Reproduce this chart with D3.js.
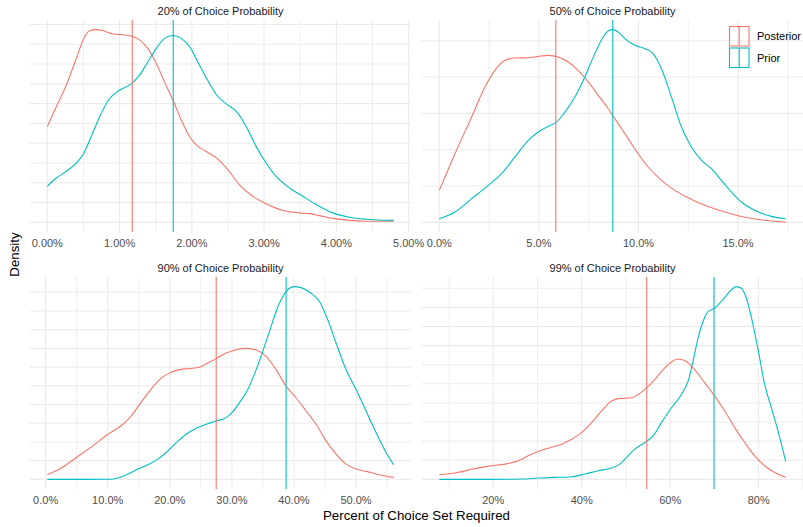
<!DOCTYPE html>
<html>
<head>
<meta charset="utf-8">
<script src="https://cdn.jsdelivr.net/npm/d3@7"></script>
<style>
  body { margin: 0; background: #fff; }
  svg text { font-family: "Liberation Sans", Arial, sans-serif; }
</style>
</head>
<body>
<div id="chart"></div>
<script>
// facet titles
var panelTitles = ["20% of Choice Probability", "50% of Choice Probability",
                   "90% of Choice Probability", "99% of Choice Probability"];

// x ticks (percent) and their labels, per facet
var xTicks = [[0, 1, 2, 3, 4, 5], [0, 5, 10, 15], [0, 10, 20, 30, 40, 50], [20, 40, 60, 80]];
var xTickLabels = [
  ["0.00%", "1.00%", "2.00%", "3.00%", "4.00%", "5.00%"],
  ["0.0%", "5.0%", "10.0%", "15.0%"],
  ["0.0%", "10.0%", "20.0%", "30.0%", "40.0%", "50.0%"],
  ["20%", "40%", "60%", "80%"]
];
var xMinor = [[0.5, 1.5, 2.5, 3.5, 4.5], [2.5, 7.5, 12.5, 17.5], [5, 15, 25, 35, 45, 55], [10, 30, 50, 70, 90]];
var yGridStep = [5, 2.5, 0.5, 0.5];

// density curves: [percent, density]
var posterior20 = [[0,24.2],[0.124,29.2],[0.263,34.7],[0.401,41.4],[0.516,46.9],[0.585,48.4],[0.677,48.7],[0.770,48.4],[0.908,47.6],[1.046,47.4],[1.161,47.1],[1.276,46.1],[1.392,43.9],[1.507,40.2],[1.622,35.5],[1.737,30.9],[1.853,25.9],[1.968,21.7],[2.060,19.6],[2.198,17.9],[2.359,16.0],[2.498,13.3],[2.659,9.5],[2.843,6.6],[3.028,4.7],[3.258,3.0],[3.488,2.4],[3.627,2.2],[3.765,1.7],[3.949,1.0],[4.180,0.5],[4.410,0.3],[4.793,0.3]];
var prior20 = [[0,9.1],[0.124,11.2],[0.263,12.9],[0.401,15.0],[0.493,17.1],[0.608,21.7],[0.724,26.7],[0.862,31.3],[1.0,33.4],[1.161,35.0],[1.276,37.2],[1.392,40.6],[1.507,43.9],[1.622,46.5],[1.737,47.2],[1.853,46.5],[1.968,44.4],[2.106,39.7],[2.244,35.1],[2.359,31.8],[2.498,29.7],[2.636,27.6],[2.751,24.2],[2.889,19.2],[3.028,15.0],[3.166,11.6],[3.350,8.7],[3.535,6.6],[3.719,4.5],[3.949,2.4],[4.180,1.3],[4.410,0.8],[4.793,0.5]];

var posterior50 = [[0,2.20],[0.786,4.72],[1.622,7.25],[2.291,9.31],[2.793,10.46],[3.294,11.15],[3.796,11.31],[4.465,11.33],[4.967,11.42],[5.468,11.49],[5.970,11.38],[6.472,11.03],[6.973,10.46],[7.475,9.66],[7.977,8.74],[8.478,7.82],[8.980,6.79],[9.482,5.76],[9.983,4.72],[10.485,3.81],[11.154,2.89],[11.823,2.20],[12.492,1.70],[13.328,1.17],[14.164,0.78],[15.0,0.46],[15.836,0.23],[16.672,0.09],[17.391,0.01]];
var prior50 = [[0,0.25],[0.786,0.71],[1.622,1.63],[2.458,2.55],[3.127,3.35],[3.796,4.50],[4.465,5.64],[4.967,6.22],[5.468,6.61],[5.886,6.90],[6.304,7.59],[6.806,8.62],[7.308,10.0],[7.809,11.61],[8.227,12.75],[8.478,13.17],[8.729,13.26],[8.980,13.10],[9.314,12.64],[9.816,12.18],[10.318,11.95],[10.736,11.61],[11.154,10.57],[11.656,8.62],[12.157,6.56],[12.659,5.18],[13.161,4.27],[13.662,3.69],[14.164,2.89],[14.666,2.09],[15.167,1.40],[15.836,0.83],[16.672,0.41],[17.391,0.25]];

var posterior90 = [[0.27,0.124],[2.25,0.275],[4.94,0.585],[7.62,0.895],[10.03,1.206],[12.45,1.472],[13.79,1.693],[15.13,2.004],[16.74,2.358],[18.35,2.668],[19.96,2.846],[21.57,2.934],[23.18,2.961],[24.79,2.996],[26.13,3.112],[27.47,3.227],[29.08,3.378],[30.69,3.466],[32.30,3.502],[33.91,3.457],[35.52,3.289],[37.12,2.934],[38.73,2.491],[40.34,2.181],[41.95,1.826],[43.56,1.472],[45.17,1.028],[46.78,0.674],[48.39,0.408],[50.0,0.275],[51.61,0.213],[53.76,0.124],[56.06,0.053]];
var prior90 = [[0.27,0],[6.01,0],[10.30,0.002],[11.64,0.035],[13.25,0.142],[14.86,0.275],[16.47,0.390],[18.08,0.541],[19.42,0.718],[21.03,0.984],[22.64,1.206],[24.25,1.365],[25.86,1.472],[27.47,1.560],[29.08,1.649],[30.15,1.809],[31.22,2.048],[32.56,2.402],[33.91,2.934],[34.98,3.422],[36.05,3.954],[37.12,4.486],[38.20,4.885],[39.27,5.106],[40.08,5.151],[41.15,5.124],[42.76,4.973],[44.10,4.752],[45.44,4.264],[46.78,3.644],[48.39,2.934],[50.0,2.402],[51.61,1.826],[53.22,1.250],[54.83,0.718],[56.06,0.390]];

var posterior99 = [[7.80,0.122],[11.60,0.174],[15.36,0.269],[18.87,0.347],[22.64,0.399],[25.64,0.486],[27.90,0.616],[30.16,0.729],[32.42,0.816],[35.44,0.920],[37.70,1.050],[39.96,1.224],[42.21,1.484],[44.47,1.788],[46.73,2.049],[48.61,2.118],[51.25,2.135],[52.76,2.222],[54.64,2.396],[56.52,2.613],[58.78,2.917],[60.28,3.073],[61.78,3.151],[63.29,3.108],[65.55,2.873],[67.81,2.526],[70.07,2.179],[72.33,1.788],[74.59,1.354],[76.85,0.964],[79.10,0.616],[81.36,0.356],[83.62,0.182],[86.11,0.052]];
var prior99 = [[7.80,0],[18.87,0],[26.39,0.009],[30.16,0.035],[33.92,0.052],[37.70,0.069],[40.71,0.139],[43.73,0.226],[46.73,0.295],[48.61,0.399],[50.11,0.573],[51.99,0.790],[54.25,0.964],[56.14,1.137],[58.02,1.484],[60.28,1.875],[62.54,2.222],[64.04,2.569],[65.17,3.090],[66.30,3.698],[67.43,4.132],[68.55,4.392],[70.06,4.479],[71.57,4.653],[73.46,4.913],[74.96,5.043],[76.09,5.0],[77.22,4.740],[78.73,4.045],[80.23,3.177],[81.36,2.483],[82.87,1.875],[84.37,1.267],[86.11,0.469]];

// mean lines (percent)
var posteriorMeans = [1.175, 5.85, 27.47, 54.7];
var priorMeans = [1.742, 8.71, 38.73, 69.9];

var posteriorCurves = [posterior20, posterior50, posterior90, posterior99];
var priorCurves = [prior20, prior50, prior90, prior99];
var seriesNames = ["Posterior", "Prior"];
var colors = ["#F8766D", "#00BFC4"];

var width = 803, height = 527;
var margin = {top: 20, right: 0, bottom: 38, left: 30};
var hGap = 11, vGap = 45;
var panelW = (width - margin.left - margin.right - hGap) / 2,
    panelH = (height - margin.top - margin.bottom - vGap) / 2;

var svg = d3.select("#chart").append("svg")
    .attr("width", width)
    .attr("height", height);

panelTitles.forEach(function(title, i) {
  var col = i % 2, row = Math.floor(i / 2);
  var px = margin.left + col * (panelW + hGap),
      py = margin.top + row * (panelH + vGap);
  var curves = [posteriorCurves[i], priorCurves[i]];
  var all = curves[0].concat(curves[1]);

  var xExt = d3.extent(all, function(d) { return d[0]; });
  var xPad = (xExt[1] - xExt[0]) * 0.05;
  var yMax = d3.max(all, function(d) { return d[1]; });

  var x = d3.scaleLinear().domain([xExt[0] - xPad, xExt[1] + xPad]).range([0, panelW]);
  var y = d3.scaleLinear().domain([-yMax * 0.05, yMax * 1.05]).range([panelH, 0]);

  var g = svg.append("g").attr("transform", "translate(" + px + "," + py + ")");

  g.append("clipPath").attr("id", "clip" + i)
    .append("rect").attr("width", panelW).attr("height", panelH);

  // grid
  var yGrid = d3.range(0, y.domain()[1], yGridStep[i]);
  g.selectAll(".ygrid").data(yGrid).enter().append("line")
    .attr("x1", 0).attr("x2", panelW)
    .attr("y1", function(d) { return y(d); }).attr("y2", function(d) { return y(d); })
    .attr("stroke", "#ebebeb").attr("stroke-width", 1.1);
  g.selectAll(".xminor").data(xMinor[i].filter(function(d) { return d >= x.domain()[0] && d <= x.domain()[1]; }))
    .enter().append("line")
    .attr("x1", function(d) { return x(d); }).attr("x2", function(d) { return x(d); })
    .attr("y1", 0).attr("y2", panelH)
    .attr("stroke", "#ebebeb").attr("stroke-width", 0.8);
  g.selectAll(".xmajor").data(xTicks[i]).enter().append("line")
    .attr("x1", function(d) { return x(d); }).attr("x2", function(d) { return x(d); })
    .attr("y1", 0).attr("y2", panelH)
    .attr("stroke", "#ebebeb").attr("stroke-width", 1.1);

  // x axis labels
  g.selectAll(".xlab").data(xTicks[i]).enter().append("text")
    .attr("x", function(d) { return x(d); })
    .attr("y", panelH + 15)
    .attr("text-anchor", "middle")
    .attr("font-size", 11)
    .attr("fill", "#4d4d4d")
    .text(function(d, j) { return xTickLabels[i][j]; });

  // strip title
  g.append("text")
    .attr("x", panelW / 2).attr("y", -5.5)
    .attr("text-anchor", "middle")
    .attr("font-size", 11)
    .attr("fill", "#1a1a1a")
    .text(title);

  var line = d3.line()
    .curve(d3.curveMonotoneX)
    .x(function(d) { return x(d[0]); })
    .y(function(d) { return y(d[1]); });

  var plot = g.append("g").attr("clip-path", "url(#clip" + i + ")");
  curves.forEach(function(c, k) {
    plot.append("path")
      .datum(c)
      .attr("fill", "none")
      .attr("stroke", colors[k])
      .attr("stroke-width", 1.1)
      .attr("d", line);
  });

  // mean lines
  [posteriorMeans[i], priorMeans[i]].forEach(function(m, k) {
    plot.append("line")
      .attr("x1", x(m)).attr("x2", x(m))
      .attr("y1", 0).attr("y2", panelH)
      .attr("stroke", colors[k])
      .attr("stroke-width", 1.1);
  });
});

// axis titles
svg.append("text")
  .attr("x", margin.left + (width - margin.left - margin.right) / 2)
  .attr("y", height - 7)
  .attr("text-anchor", "middle")
  .attr("font-size", 13.3)
  .attr("fill", "#000")
  .text("Percent of Choice Set Required");

svg.append("text")
  .attr("transform", "translate(19," + (margin.top + (height - margin.top - margin.bottom) / 2) + ") rotate(-90)")
  .attr("text-anchor", "middle")
  .attr("font-size", 13.3)
  .attr("fill", "#000")
  .text("Density");

// legend (inside top-right panel)
var legend = svg.append("g").attr("transform", "translate(729,26)");
seriesNames.forEach(function(name, k) {
  var lg = legend.append("g").attr("transform", "translate(0," + (k * 21.5) + ")");
  lg.append("rect")
    .attr("x", 0.5).attr("y", 0.5)
    .attr("width", 19.5).attr("height", 19.5)
    .attr("fill", "none")
    .attr("stroke", colors[k])
    .attr("stroke-width", 1.1);
  lg.append("line")
    .attr("x1", 10.2).attr("x2", 10.2)
    .attr("y1", 0.5).attr("y2", 20)
    .attr("stroke", colors[k])
    .attr("stroke-width", 1.1);
  lg.append("text")
    .attr("x", 28).attr("y", 10.5)
    .attr("dy", "0.35em")
    .attr("font-size", 11)
    .attr("fill", "#000")
    .text(name);
});
</script>
</body>
</html>
